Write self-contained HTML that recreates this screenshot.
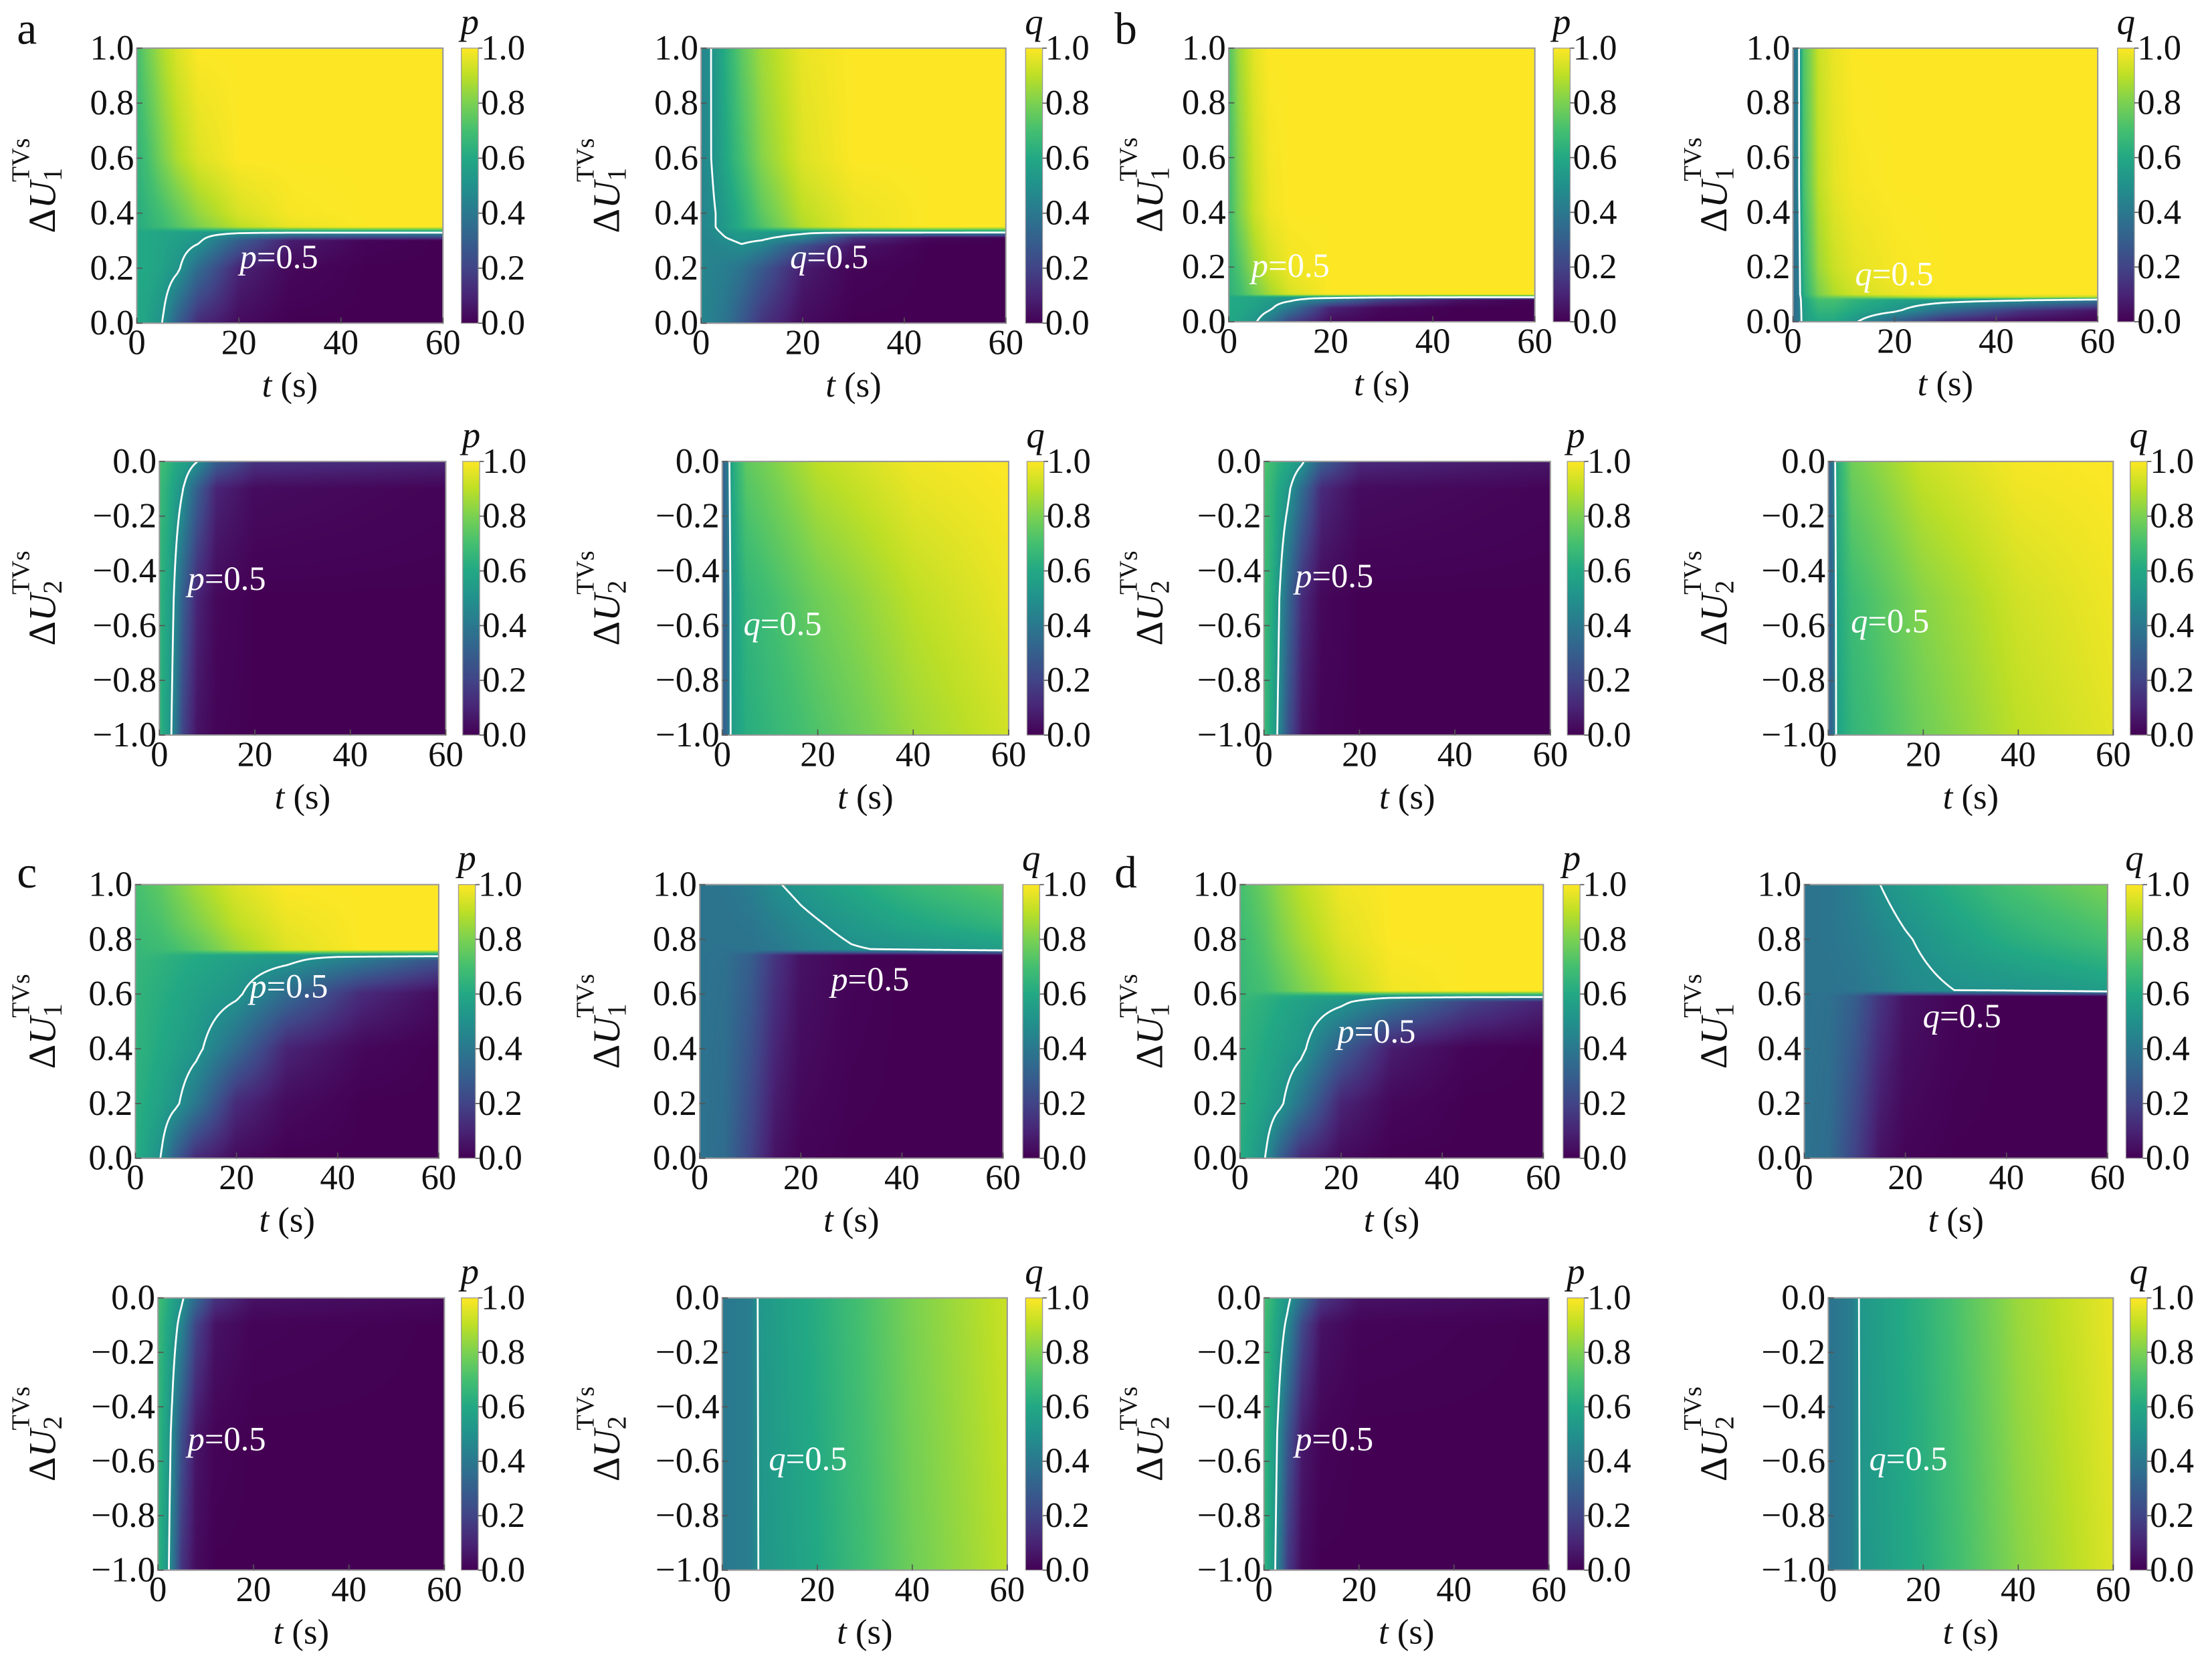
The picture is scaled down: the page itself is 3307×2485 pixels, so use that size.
<!DOCTYPE html>
<html><head><meta charset="utf-8"><style>
html,body{margin:0;padding:0;background:#fff;}
#wrap{position:relative;width:3307px;height:2485px;overflow:hidden;background:#fff;}
canvas{position:absolute;}
svg{position:absolute;left:0;top:0;}
svg text{font-family:"Liberation Serif","Times New Roman",Times,"DejaVu Serif",serif;}
</style></head><body>
<div id="wrap">
<svg id="svg" width="3307" height="2485" viewBox="0 0 1568 1178">
<defs><linearGradient id="vir" x1="0" y1="1" x2="0" y2="0">
<stop offset="0" stop-color="#440154"/><stop offset="0.1" stop-color="#482475"/><stop offset="0.2" stop-color="#414487"/><stop offset="0.3" stop-color="#355f8d"/><stop offset="0.4" stop-color="#2a788e"/><stop offset="0.5" stop-color="#21918c"/><stop offset="0.6" stop-color="#22a884"/><stop offset="0.7" stop-color="#44bf70"/><stop offset="0.8" stop-color="#7ad151"/><stop offset="0.9" stop-color="#bddf26"/><stop offset="1" stop-color="#fde725"/>
</linearGradient></defs>
<g id="layer"></g>
</svg>
</div>
<script>
// ---- data ----
const tTicks=[0,20,40,60];
const u1Ticks=[0,0.2,0.4,0.6,0.8,1.0];
const u2Ticks=[-1,-0.8,-0.6,-0.4,-0.2,0];
const cbTicks=[0,0.2,0.4,0.6,0.8,1.0];

const a1T=[0,2,5,8,12,20,30,45,60];
const a1U=[0,0.2,0.3,0.33,0.35,0.4,0.6,1.0];
const a1V=[[.6,.57,.5,.3,.12,.03,0,0,0],[.6,.6,.57,.52,.35,.1,.02,0,0],[.6,.6,.58,.56,.52,.3,.08,.01,0],[.6,.6,.58,.57,.55,.52,.51,.51,.51],[.62,.64,.68,.73,.8,.9,.97,1,1],[.62,.65,.7,.76,.84,.94,.99,1,1],[.65,.7,.8,.88,.95,1,1,1,1],[.7,.78,.88,.95,1,1,1,1,1]];

const a2T=[0,2,5,8,12,20,30,45,60];
const a2U=[0,0.2,0.28,0.31,0.33,0.35,0.4,0.6,1];
const a2V=[[.45,.43,.38,.28,.15,.03,0,0,0],[.45,.44,.42,.38,.28,.08,.01,0,0],[.45,.45,.46,.49,.45,.25,.05,0,0],[.45,.46,.5,.53,.52,.45,.15,.02,0],[.45,.47,.52,.55,.55,.52,.51,.51,.51],[.45,.48,.55,.62,.72,.88,.97,1,1],[.45,.48,.55,.63,.75,.9,.97,1,1],[.45,.5,.6,.7,.82,.95,1,1,1],[.45,.5,.63,.75,.86,.97,1,1,1]];

const b1T=[0,2,5,8,12,20,30,45,60];
const b1U=[0,0.05,0.08,0.09,0.1,0.2,0.4,1];
const b1V=[[.6,.57,.52,.4,.2,.03,0,0,0],[.6,.6,.57,.52,.4,.1,.02,0,0],[.6,.6,.58,.55,.52,.4,.2,.05,0],[.6,.6,.6,.58,.56,.52,.51,.51,.51],[.64,.68,.78,.86,.94,1,1,1,1],[.65,.72,.85,.93,.98,1,1,1,1],[.68,.8,.92,.98,1,1,1,1,1],[.72,.86,.96,1,1,1,1,1,1]];

const b2T=[0,1,2,5,8,12,20,30,45,60];
const b2U=[0,0.04,0.08,0.09,0.1,0.2,0.5,1];
const b2V=[[.35,.4,.55,.6,.6,.52,.3,.1,.02,0],[.35,.4,.56,.65,.65,.6,.52,.35,.15,.05],[.35,.4,.58,.7,.7,.65,.58,.55,.52,.4],[.35,.4,.6,.75,.78,.8,.85,.9,.92,.9],[.35,.42,.62,.8,.88,.93,.97,1,1,1],[.35,.42,.65,.85,.92,.96,.99,1,1,1],[.35,.45,.7,.9,.96,.99,1,1,1,1],[.35,.45,.72,.92,.97,1,1,1,1,1]];

const a3T=[0,2,3,5,8,12,20,60];
const a3U=[-1,-0.5,-0.1,0];
const a3V=[[.65,.55,.45,.2,.05,.01,0,0],[.65,.58,.5,.3,.1,.02,0,0],[.68,.62,.58,.5,.3,.1,.03,.01],[.7,.65,.62,.58,.5,.3,.15,.1]];

const a4T=[0,1,2,5,20,40,60];
const a4U=[-1,-0.5,0];
const a4V=[[.3,.35,.55,.62,.72,.85,.93],[.3,.35,.56,.65,.78,.9,.97],[.3,.4,.6,.75,.9,.98,1]];

const b3T=[0,2,3,5,8,12,20,60];
const b3U=[-1,-0.5,-0.1,0];
const b3V=[[.68,.57,.48,.25,.06,.01,0,0],[.68,.6,.52,.34,.12,.02,0,0],[.7,.64,.6,.53,.35,.12,.03,.01],[.72,.67,.64,.6,.52,.3,.12,.06]];

const b4T=[0,1,2,5,20,40,60];
const b4U=[-1,-0.5,0];
const b4V=[[.3,.35,.58,.65,.78,.9,.96],[.3,.35,.6,.68,.82,.93,.98],[.3,.4,.62,.78,.92,.99,1]];

const c1T=[0,2,5,8,12,20,30,45,60];
const c1U=[0,0.2,0.4,0.6,0.72,0.74,0.76,0.85,1];
const c1V=[[.62,.58,.5,.3,.12,.03,0,0,0],[.63,.61,.57,.52,.4,.12,.03,0,0],[.64,.63,.6,.57,.53,.35,.1,.02,0],[.65,.64,.62,.6,.57,.52,.35,.12,.03],[.66,.65,.64,.62,.6,.56,.52,.4,.25],[.66,.66,.65,.63,.61,.58,.53,.51,.51],[.66,.67,.68,.7,.74,.85,.95,1,1],[.68,.69,.71,.75,.8,.9,.97,1,1],[.7,.72,.75,.8,.86,.95,1,1,1]];

const c2T=[0,5,10,15,20,30,40,60];
const c2U=[0,0.74,0.76,0.85,1];
const c2V=[[.38,.35,.2,.05,.01,0,0,0],[.38,.37,.3,.15,.05,.01,0,0],[.38,.38,.38,.4,.44,.49,.51,.55],[.38,.38,.39,.43,.47,.53,.58,.65],[.38,.39,.42,.49,.53,.6,.66,.75]];

const c3T=[0,2,3,5,8,12,20,60];
const c3U=[-1,-0.5,-0.1,0];
const c3V=[[.65,.53,.42,.15,.03,0,0,0],[.66,.56,.47,.25,.06,.01,0,0],[.68,.6,.56,.45,.2,.05,.01,0],[.7,.63,.58,.52,.35,.15,.05,.02]];

const c4T=[0,6,8,20,40,60];
const c4U=[-1,0];
const c4V=[[.4,.42,.52,.6,.78,.9],[.4,.42,.53,.62,.8,.92]];

const d1T=[0,2,5,8,12,20,30,45,60];
const d1U=[0,0.2,0.4,0.57,0.59,0.61,0.8,1];
const d1V=[[.62,.58,.5,.3,.12,.03,0,0,0],[.63,.61,.57,.52,.38,.1,.02,0,0],[.64,.63,.6,.57,.53,.3,.08,.01,0],[.66,.65,.63,.6,.57,.52,.4,.2,.1],[.66,.66,.64,.62,.6,.56,.52,.51,.51],[.66,.68,.7,.74,.8,.9,.98,1,1],[.68,.7,.74,.8,.86,.95,1,1,1],[.7,.73,.78,.84,.9,.98,1,1,1]];

const d2T=[0,5,10,15,20,30,40,60];
const d2U=[0,0.59,0.61,0.8,1];
const d2V=[[.38,.35,.2,.05,.01,0,0,0],[.38,.37,.3,.15,.05,.01,0,0],[.38,.38,.39,.42,.46,.5,.51,.55],[.38,.39,.41,.45,.49,.56,.62,.7],[.38,.39,.43,.5,.55,.63,.7,.8]];

const d3T=[0,2,3,5,8,12,20,60];
const d3U=[-1,-0.5,-0.1,0];
const d3V=[[.65,.54,.43,.17,.03,0,0,0],[.66,.57,.48,.27,.07,.01,0,0],[.68,.61,.57,.47,.22,.05,.01,0],[.7,.64,.59,.53,.37,.16,.05,.02]];

const d4T=[0,5,7,20,40,60];
const d4U=[-1,0];
const d4V=[[.38,.42,.52,.62,.82,.95],[.38,.42,.53,.64,.85,.97]];

// ---- layout ----
const S=3307/1568;
const panels=[
 {id:'a1',x0:97,x1:314,y0:34,y1:229,cb:327,k:'1',v:'p',T:a1T,U:a1U,V:a1V,lx:170,ly:182,lt:'p',col:0},
 {id:'a2',x0:497,x1:713,y0:34,y1:229,cb:727,k:'1',v:'q',T:a2T,U:a2U,V:a2V,lx:560,ly:182,lt:'q',col:400},
 {id:'b1',x0:871,x1:1088,y0:34,y1:228,cb:1101,k:'1',v:'p',T:b1T,U:b1U,V:b1V,lx:887,ly:188,lt:'p',col:785},
 {id:'b2',x0:1271,x1:1487,y0:34,y1:228,cb:1501,k:'1',v:'q',T:b2T,U:b2U,V:b2V,lx:1315,ly:194,lt:'q',col:1185},
 {id:'a3',x0:113,x1:316,y0:327,y1:521,cb:328,k:'2',v:'p',T:a3T,U:a3U,V:a3V,lx:133,ly:410,lt:'p',col:0},
 {id:'a4',x0:512,x1:715,y0:327,y1:521,cb:728,k:'2',v:'q',T:a4T,U:a4U,V:a4V,lx:527,ly:442,lt:'q',col:400},
 {id:'b3',x0:896,x1:1099,y0:327,y1:521,cb:1111,k:'2',v:'p',T:b3T,U:b3U,V:b3V,lx:918,ly:408,lt:'p',col:785},
 {id:'b4',x0:1296,x1:1498,y0:327,y1:521,cb:1510,k:'2',v:'q',T:b4T,U:b4U,V:b4V,lx:1312,ly:440,lt:'q',col:1185},
 {id:'c1',x0:96,x1:311,y0:627,y1:821,cb:325,k:'1',v:'p',T:c1T,U:c1U,V:c1V,lx:177,ly:699,lt:'p',col:0},
 {id:'c2',x0:496,x1:711,y0:627,y1:821,cb:725,k:'1',v:'q',T:c2T,U:c2U,V:c2V,lx:589,ly:694,lt:'p',col:400},
 {id:'d1',x0:879,x1:1094,y0:627,y1:821,cb:1108,k:'1',v:'p',T:d1T,U:d1U,V:d1V,lx:948,ly:731,lt:'p',col:785},
 {id:'d2',x0:1279,x1:1494,y0:627,y1:821,cb:1507,k:'1',v:'q',T:d2T,U:d2U,V:d2V,lx:1363,ly:720,lt:'q',col:1185},
 {id:'c3',x0:112,x1:315,y0:920,y1:1113,cb:327,k:'2',v:'p',T:c3T,U:c3U,V:c3V,lx:133,ly:1020,lt:'p',col:0},
 {id:'c4',x0:512,x1:714,y0:920,y1:1113,cb:727,k:'2',v:'q',T:c4T,U:c4U,V:c4V,lx:545,ly:1034,lt:'q',col:400},
 {id:'d3',x0:896,x1:1098,y0:920,y1:1113,cb:1111,k:'2',v:'p',T:d3T,U:d3U,V:d3V,lx:918,ly:1020,lt:'p',col:785},
 {id:'d4',x0:1296,x1:1498,y0:920,y1:1113,cb:1510,k:'2',v:'q',T:d4T,U:d4U,V:d4V,lx:1325,ly:1034,lt:'q',col:1185}
];
const letters=[['a',12,31],['b',790,31],['c',12,629],['d',790,629]];

const VIR=[[68,1,84],[72,36,117],[65,68,135],[53,95,141],[42,120,142],[33,145,140],[34,168,132],[68,191,112],[122,209,81],[189,223,38],[253,231,37]];
function cmap(v){v=Math.max(0,Math.min(1,v));const f=v*10;const i=Math.min(9,Math.floor(f));const r=f-i;const a=VIR[i],b=VIR[i+1];return [a[0]+(b[0]-a[0])*r,a[1]+(b[1]-a[1])*r,a[2]+(b[2]-a[2])*r];}
function seg(arr,x){let i=0;while(i<arr.length-2&&x>arr[i+1])i++;let r=(x-arr[i])/(arr[i+1]-arr[i]);r=Math.max(0,Math.min(1,r));return [i,r];}
function field(P,t,u){const [i,rt]=seg(P.T,t);const [j,ru]=seg(P.U,u);const V=P.V;
 const a=V[j][i]*(1-rt)+V[j][i+1]*rt;const b=V[j+1][i]*(1-rt)+V[j+1][i+1]*rt;return a*(1-ru)+b*ru;}

const NS='http://www.w3.org/2000/svg';
const layer=document.getElementById('layer');
const wrap=document.getElementById('wrap');
function el(tag,attrs,parent){const e=document.createElementNS(NS,tag);for(const k in attrs)e.setAttribute(k,attrs[k]);(parent||layer).appendChild(e);return e;}

panels.forEach(P=>{
 const umin=P.k==='1'?0:-1, umax=P.k==='1'?1:0;
 const xs=t=>P.x0+(t/60)*(P.x1-P.x0);
 const ys=u=>P.y1-(u-umin)/(umax-umin)*(P.y1-P.y0);
 const cv=document.createElement('canvas');
 const W=Math.round((P.x1-P.x0)*S),H=Math.round((P.y1-P.y0)*S);
 cv.width=W;cv.height=H;cv.style.left=(P.x0*S)+'px';cv.style.top=(P.y0*S)+'px';
 
 
 const ctx=cv.getContext('2d');const img=ctx.createImageData(W,H);
 for(let py=0;py<H;py++){const u=umax-(py+0.5)/H*(umax-umin);
  for(let px=0;px<W;px++){const t=(px+0.5)/W*60;const c=cmap(field(P,t,u));const o=(py*W+px)*4;
   img.data[o]=c[0];img.data[o+1]=c[1];img.data[o+2]=c[2];img.data[o+3]=255;}}
 ctx.putImageData(img,0,0);
 wrap.insertBefore(cv,wrap.firstChild);
 const g=el('g',{});
 
 
 const nx=160,ny=140;let d='';const grid=[];
 for(let j=0;j<=ny;j++){grid.push([]);for(let i=0;i<=nx;i++){grid[j].push(field(P,i/nx*60,umin+j/ny*(umax-umin))-0.5);}}
 const pt=(i,j)=>[xs(i/nx*60),ys(umin+j/ny*(umax-umin))];
 function interp(i1,j1,i2,j2){const a=grid[j1][i1],b=grid[j2][i2];const r=a/(a-b);const p1=pt(i1,j1),p2=pt(i2,j2);return [p1[0]+(p2[0]-p1[0])*r,p1[1]+(p2[1]-p1[1])*r];}
 for(let j=0;j<ny;j++)for(let i=0;i<nx;i++){
  const e=[];const c=[[i,j],[i+1,j],[i+1,j+1],[i,j+1]];
  for(let k=0;k<4;k++){const A=c[k],B=c[(k+1)%4];const va=grid[A[1]][A[0]],vb=grid[B[1]][B[0]];if((va<0)!==(vb<0))e.push(interp(A[0],A[1],B[0],B[1]));}
  if(e.length>=2){d+='M'+e[0][0].toFixed(2)+' '+e[0][1].toFixed(2)+'L'+e[1][0].toFixed(2)+' '+e[1][1].toFixed(2);}
  if(e.length===4){d+='M'+e[2][0].toFixed(2)+' '+e[2][1].toFixed(2)+'L'+e[3][0].toFixed(2)+' '+e[3][1].toFixed(2);}
 }
 const cl=el('path',{d:d,stroke:'#fff','stroke-width':1.3,fill:'none','stroke-linecap':'round'},g);
 
 
 const fr=el('rect',{x:P.x0,y:P.y0,width:P.x1-P.x0,height:P.y1-P.y0,fill:'none',stroke:'#999','stroke-width':1},g);
 
 
 const lb=el('text',{x:P.lx,y:P.ly,'font-size':24,fill:'#fff','dominant-baseline':'central'},g);
 lb.innerHTML='<tspan font-style="italic">'+P.lt+'</tspan>=0.5';
 
 
 tTicks.forEach(t=>{
  el('line',{x1:xs(t),x2:xs(t),y1:P.y1,y2:P.y1-4,stroke:'#555','stroke-width':0.8},g);
  const tx=el('text',{x:xs(t),y:P.y1+22,'text-anchor':'middle','font-size':25,fill:'#111'},g);
  tx.textContent=String(t);
  
  
 });
 (P.k==='1'?u1Ticks:u2Ticks).forEach(u=>{
  el('line',{x1:P.x0,x2:P.x0+4,y1:ys(u),y2:ys(u),stroke:'#555','stroke-width':0.8},g);
  const ty=el('text',{x:P.x0-2,y:ys(u)+8,'text-anchor':'end','font-size':25,fill:'#111'},g);
  ty.textContent=(u<0?'\u2212':'')+Math.abs(u).toFixed(1);
  
  
 });
 const xl=el('text',{x:(P.x0+P.x1)/2,y:P.y1+52,'text-anchor':'middle','font-size':25,fill:'#111'},g);
 xl.innerHTML='<tspan font-style="italic">t</tspan> (s)';
 
 
 const ym=(P.y0+P.y1)/2, lxp=P.col+30;
 const yl=el('text',{transform:'translate('+lxp+','+ym+') rotate(-90)','text-anchor':'middle','font-size':27,fill:'#111','dominant-baseline':'central'},g);
 yl.innerHTML='\u0394<tspan font-style="italic">U</tspan><tspan font-size="19" dy="7">'+P.k+'</tspan><tspan font-size="18" dx="-10" dy="-22">TVs</tspan>';
 
 
 const cb=el('rect',{x:P.cb,y:P.y0,width:12,height:P.y1-P.y0,fill:'url(#vir)',stroke:'#999','stroke-width':0.6},g);
 
 
 cbTicks.forEach(v=>{
  const yy=P.y1-v*(P.y1-P.y0);
  el('line',{x1:P.cb+12,x2:P.cb+15,y1:yy,y2:yy,stroke:'#555','stroke-width':0.8},g);
  const ct=el('text',{x:P.cb+14,y:yy+8,'font-size':25,fill:'#111'},g);
  ct.textContent=v.toFixed(1);
  
  
 });
 const ctl=el('text',{x:P.cb+6,y:P.y0-10,'text-anchor':'middle','font-size':26,'font-style':'italic',fill:'#111'},g);
 ctl.textContent=P.v;
 
 
});
letters.forEach(L=>{
 const t=el('text',{x:L[1],y:L[2],'font-size':32,fill:'#111'});
 t.textContent=L[0];
 
 
});
</script>
</body></html>
